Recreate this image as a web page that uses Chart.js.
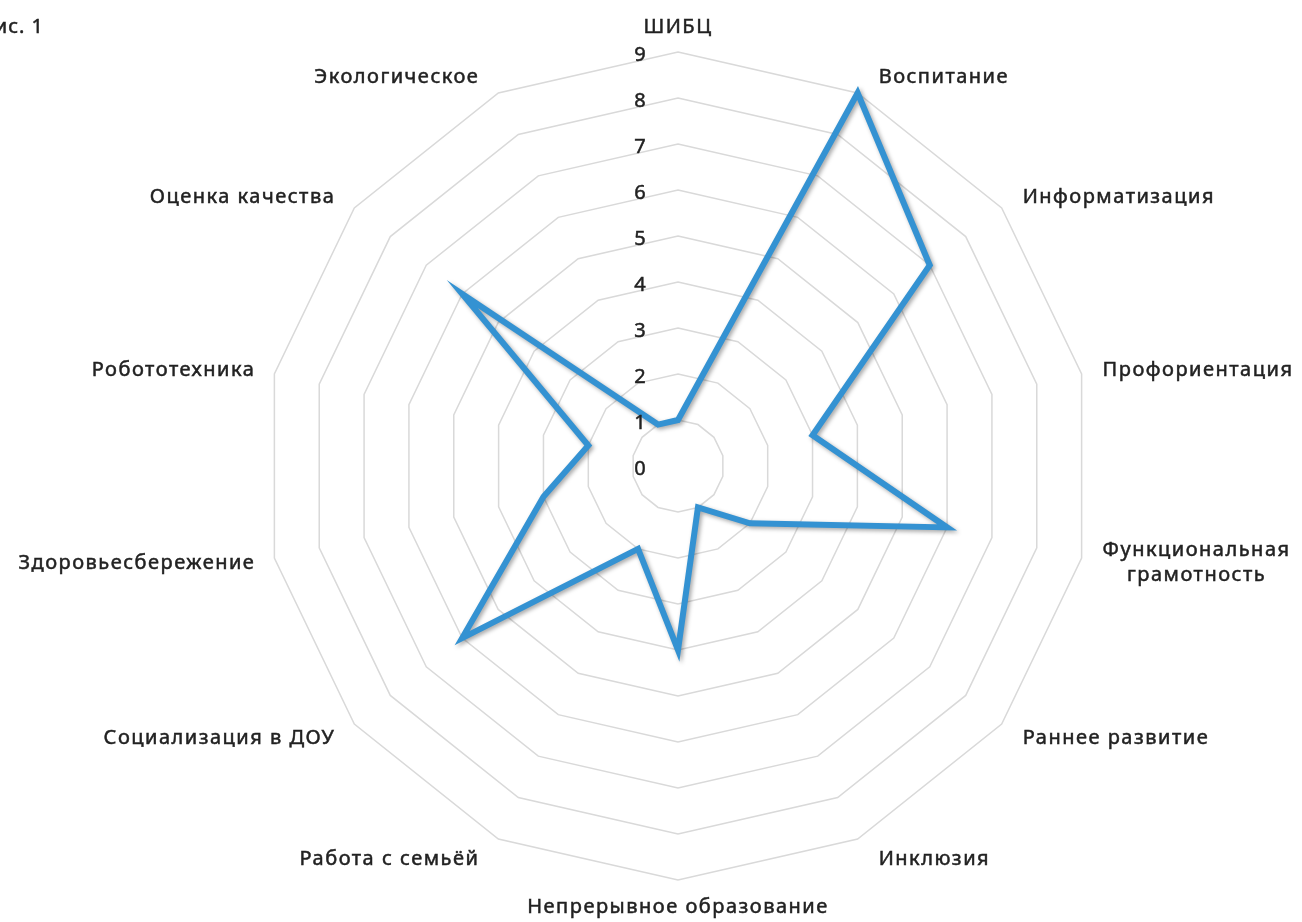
<!DOCTYPE html>
<html>
<head>
<meta charset="utf-8">
<script src="https://cdn.jsdelivr.net/npm/chart.js@4"></script>
<style>
  html, body { margin: 0; padding: 0; background: #fff; }
  canvas { display: block; }
</style>
</head>
<body>
<canvas id="radarChart" width="1302" height="922"></canvas>
<script>
// categories, clockwise from top
const categories = [
    'ШИБЦ', 'Воспитание', 'Информатизация', 'Профориентация',
    ['Функциональная', 'грамотность'], 'Раннее развитие', 'Инклюзия',
    'Непрерывное образование', 'Работа с семьёй', 'Социализация в ДОУ',
    'Здоровьесбережение', 'Робототехника', 'Оценка качества', 'Экологическое'
];
const values = [1, 9, 7, 3, 6, 2, 1, 4, 2, 6, 3, 2, 6, 1];
const tickValues = [0, 1, 2, 3, 4, 5, 6, 7, 8, 9];

const FONT = '"Noto Sans", sans-serif';
const TEXT = '#222222';

// line shadow like the office chart
const shadowPlugin = {
    id: 'lineShadow',
    beforeDatasetDraw(chart) {
        const ctx = chart.ctx;
        ctx.save();
        ctx.shadowColor = 'rgba(0,0,0,0.35)';
        ctx.shadowBlur = 4;
        ctx.shadowOffsetX = 2;
        ctx.shadowOffsetY = 2;
    },
    afterDatasetDraw(chart) {
        chart.ctx.restore();
    }
};

// filled text with a hairline stroke, the office font is a bit heavier
function heavyText(ctx, txt, x, y) {
    ctx.fillText(txt, x, y);
    ctx.strokeText(txt, x, y);
}

// category names and tick numbers drawn at excel-like spots
const labelPlugin = {
    id: 'excelLabels',
    afterDraw(chart) {
        const s = chart.scales.r;
        const ctx = chart.ctx;
        ctx.save();
        ctx.fillStyle = TEXT;
        ctx.strokeStyle = TEXT;
        ctx.lineWidth = 0.5;
        ctx.textBaseline = 'middle';
        ctx.textAlign = 'center';
        ctx.font = '20px ' + FONT;
        ctx.letterSpacing = '1.5px';

        categories.forEach((lab, i) => {
            const v = s.getPointPosition(i, s.drawingArea);
            const lines = Array.isArray(lab) ? lab : [lab];
            const w = Math.max(...lines.map(l => ctx.measureText(l).width));
            const sin = (v.x - s.xCenter) / s.drawingArea;
            const cos = (s.yCenter - v.y) / s.drawingArea;
            let cx, cy;
            if (Math.abs(sin) < 0.01) {
                cx = v.x;
                cy = cos > 0 ? v.y - 25 : v.y + 27;
            } else {
                cx = sin > 0 ? v.x + 21 + w / 2 : v.x - 19 - w / 2;
                cy = v.y - cos * (cos > 0 ? 17 : 22);
            }
            lines.forEach((l, k) => {
                heavyText(ctx, l, cx, cy + (k - (lines.length - 1) / 2) * 25);
            });
        });

        ctx.letterSpacing = '0px';
        ctx.font = '20px ' + FONT;
        tickValues.forEach(v => {
            const d = s.getDistanceFromCenterForValue(v);
            heavyText(ctx, String(v), s.xCenter - 38, s.yCenter - d + 3);
        });

        ctx.textAlign = 'right';
        ctx.letterSpacing = '1px';
        ctx.font = '20px ' + FONT;
        heavyText(ctx, 'Рис. 1', 44, 27);
        ctx.restore();
    }
};

new Chart(document.getElementById('radarChart'), {
    type: 'radar',
    data: {
        labels: categories,
        datasets: [{
            data: values,
            borderColor: '#3492d2',
            borderWidth: 6,
            fill: false,
            tension: 0,
            pointRadius: 0,
            pointHoverRadius: 0,
            borderJoinStyle: 'miter'
        }]
    },
    options: {
        responsive: false,
        animation: false,
        plugins: { legend: { display: false }, tooltip: { enabled: false } },
        scales: {
            r: {
                min: 0,
                max: 9,
                ticks: { stepSize: 1, display: false },
                grid: { color: '#d9d9d9', lineWidth: 1.5 },
                angleLines: { display: false },
                pointLabels: { display: false },
                afterFit(scale) {
                    scale.xCenter = 678;
                    scale.yCenter = 466;
                    scale.drawingArea = 414;
                }
            }
        }
    },
    plugins: [shadowPlugin, labelPlugin]
});
</script>
</body>
</html>
